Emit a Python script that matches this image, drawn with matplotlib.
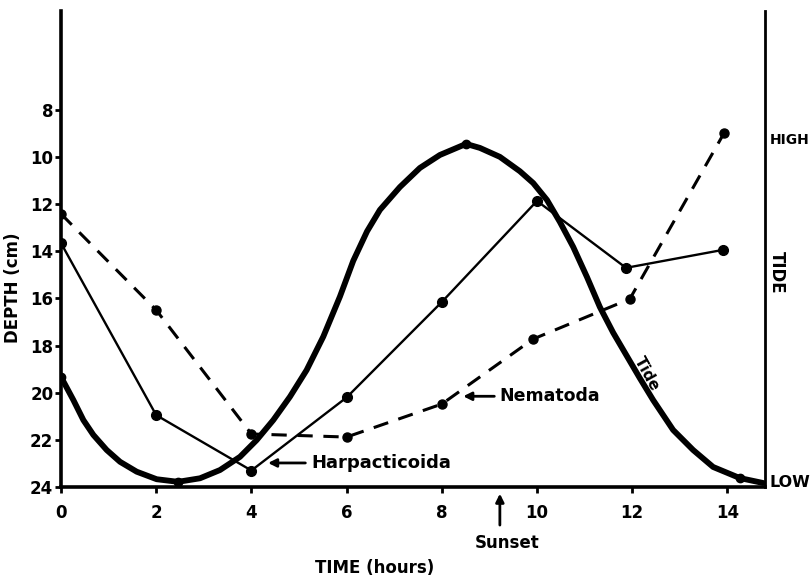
import matplotlib
matplotlib.use("Agg")
import matplotlib.pyplot as plt

plt.rcParams['font.family'] = ['DejaVu Sans']
plt.rcParams['font.weight'] = 'bold'

# ---- data ----
harp_time = [0, 2, 4, 6, 8, 10, 11.87, 13.9]
harp_depth = [13.65, 20.95, 23.3, 20.2, 16.15, 11.86, 14.7, 13.94]

nema_time = [0, 2, 4, 6, 8, 9.92, 11.95, 13.93]
nema_depth = [12.41, 16.49, 21.75, 21.88, 20.48, 17.72, 16.02, 8.98]

tide_time = [0.0, 0.26, 0.47, 0.68, 0.96, 1.24, 1.59, 2.01, 2.46, 2.92, 3.34, 3.76,
             4.11, 4.46, 4.81, 5.16, 5.51, 5.86, 6.14, 6.43, 6.70, 7.12, 7.54,
             7.96, 8.51, 8.80, 9.22, 9.64, 9.92, 10.21, 10.48, 10.76, 11.05, 11.32,
             11.60, 11.89, 12.16, 12.44, 12.86, 13.28, 13.70, 14.26, 14.75]
tide_depth = [19.33, 20.31, 21.16, 21.79, 22.43, 22.93, 23.35, 23.67, 23.78, 23.63,
              23.28, 22.72, 22.01, 21.16, 20.17, 19.04, 17.62, 15.92, 14.40,
              13.15, 12.24, 11.27, 10.46, 9.91, 9.44, 9.61, 9.99, 10.60, 11.10, 11.82,
              12.75, 13.81, 15.09, 16.36, 17.45, 18.45, 19.38, 20.31, 21.58, 22.43,
              23.15, 23.62, 23.83]
tide_dot_time = [0.0, 2.46, 8.51, 14.26]
tide_dot_depth = [19.33, 23.78, 9.44, 23.62]

xticks = [0, 2, 4, 6, 8, 10, 12, 14]
yticks = [8, 10, 12, 14, 16, 18, 20, 22, 24]
sunset_time = 9.22

W, H = 812, 583
fig = plt.figure(figsize=(W / 100, H / 100), dpi=100)
ax = fig.add_axes([61 / W, 1 - 487 / H, (765 - 61) / W, (487 - 11) / H])
ax.set_xlim(0, 14.79)
ax.set_ylim(24.0, 3.8)

# tide curve
ax.plot(tide_time, tide_depth, color='black', lw=4.2, solid_capstyle='round',
        solid_joinstyle='round', zorder=3)
ax.plot(tide_dot_time, tide_dot_depth, 'o', color='black', ms=6, zorder=4)

# Harpacticoida
ax.plot(harp_time, harp_depth, '-o', color='black', lw=1.7, ms=7, zorder=3)
# Nematoda
ax.plot(nema_time, nema_depth, '--o', color='black', lw=2.2, ms=6.5,
        dashes=(5, 3.5), zorder=3)

# spines
ax.spines['top'].set_visible(False)
ax.spines['left'].set_linewidth(2.6)
ax.spines['bottom'].set_linewidth(2.6)
ax.spines['right'].set_linewidth(2.0)

ax.set_xticks(xticks)
ax.set_xticklabels([str(t) for t in xticks])
ax.set_yticks(yticks)
ax.set_yticklabels([str(t) for t in yticks])
ax.tick_params(axis='x', direction='out', length=4.5, width=2, pad=8, labelsize=12)
ax.tick_params(axis='y', direction='out', length=4.5, width=2, pad=1, labelsize=12)
ax.tick_params(axis='y', which='both', right=False)

ax.set_xlabel('TIME (hours)', fontsize=12, fontweight='bold')
ax.xaxis.set_label_coords((375 - 61) / 704, -(559 - 487) / 476)
ax.set_ylabel('DEPTH (cm)', fontsize=12, fontweight='bold')
ax.yaxis.set_label_coords((22 - 61) / 704, (487 - 288) / 476)

# right-side tide labels
ax.text(1.007, 9.27, 'HIGH', transform=ax.get_yaxis_transform(), fontsize=10,
        fontweight='bold', ha='left', va='center')
ax.text(1.007, 23.8, 'LOW', transform=ax.get_yaxis_transform(), fontsize=11.5,
        fontweight='bold', ha='left', va='center')
ax.text(1.017, 14.9, 'TIDE', transform=ax.get_yaxis_transform(), fontsize=12,
        fontweight='bold', ha='center', va='center', rotation=270)

# annotations
ax.annotate('Nematoda', xy=(8.45, 20.15), xytext=(9.22, 20.15), fontsize=12.5,
            fontweight='bold', va='center', ha='left',
            arrowprops=dict(arrowstyle='-|>', color='black', lw=2, shrinkA=2, shrinkB=0,
                            mutation_scale=12))
ax.annotate('Harpacticoida', xy=(4.35, 22.98), xytext=(5.25, 22.98), fontsize=13,
            fontweight='bold', va='center', ha='left',
            arrowprops=dict(arrowstyle='-|>', color='black', lw=2, shrinkA=2, shrinkB=0,
                            mutation_scale=12))
ax.text(12.3, 19.2, 'Tide', fontsize=11, fontweight='bold', rotation=-61,
        ha='center', va='center')

# sunset arrow below the axis
ax.annotate('', xy=(sunset_time, -0.014), xytext=(sunset_time, -0.08),
            xycoords=ax.get_xaxis_transform(), textcoords=ax.get_xaxis_transform(),
            arrowprops=dict(arrowstyle='-|>', color='black', lw=2, mutation_scale=12,
                            shrinkA=0, shrinkB=0), annotation_clip=False)
ax.text(9.37, -(543 - 487) / 476, 'Sunset', transform=ax.get_xaxis_transform(),
        fontsize=12, fontweight='bold', ha='center', va='center')

fig.savefig('out.png', dpi=100)
